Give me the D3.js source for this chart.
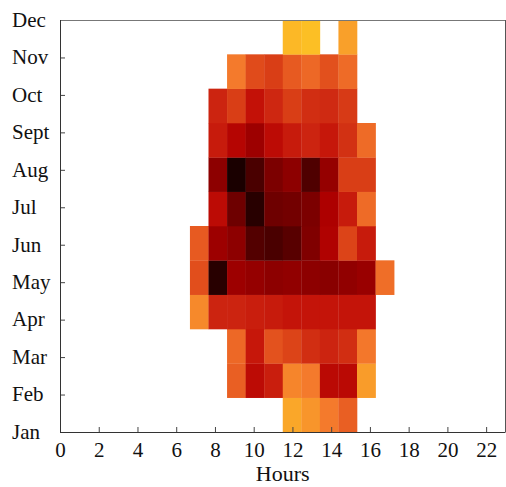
<!DOCTYPE html>
<html>
<head>
<meta charset="utf-8">
<script src="https://cdn.jsdelivr.net/npm/d3@7"></script>
<style>
  body { margin: 0; background: #fff; }
  text { font-family: "Liberation Serif", "DejaVu Serif", serif; fill: #111; }
</style>
</head>
<body>
<div id="heatmap"></div>
<script>
// months bottom to top, hours 0..23
var months = ["Jan", "Feb", "Mar", "Apr", "May", "Jun", "Jul", "Aug", "Sept", "Oct", "Nov", "Dec"];
var hours = d3.range(24);
var xTicks = [0, 2, 4, 6, 8, 10, 12, 14, 16, 18, 20, 22];

// intensity per hour (null = no data)
var n = null;
var jan  = [n,n,n,n,n,n,n,n,n,n,n,n, 12,18,25,34, n,n,n,n,n,n,n,n];
var feb  = [n,n,n,n,n,n,n,n,n, 34,64,57,22,25,65,65,16, n,n,n,n,n,n,n];
var mar  = [n,n,n,n,n,n,n,n,n, 31,59,39,45,52,55,52,26, n,n,n,n,n,n,n];
var apr  = [n,n,n,n,n,n,n, 21,55,55,57,58,60,60,60,60,60, n,n,n,n,n,n,n];
var may  = [n,n,n,n,n,n,n, 41,98,74,76,78,77,78,79,77,75,29, n,n,n,n,n,n];
var jun  = [n,n,n,n,n,n,n, 36,74,78,91,93,90,81,69,45,58, n,n,n,n,n,n,n];
var jul  = [n,n,n,n,n,n,n,n, 64,85,98,85,84,82,70,58,30, n,n,n,n,n,n,n];
var aug  = [n,n,n,n,n,n,n,n, 78,100,93,82,78,92,76,47,47, n,n,n,n,n,n,n];
var sept = [n,n,n,n,n,n,n,n, 58,67,74,64,58,55,59,51,30, n,n,n,n,n,n,n];
var oct  = [n,n,n,n,n,n,n,n, 55,47,61,54,47,52,53,48, n,n,n,n,n,n,n,n];
var nov  = [n,n,n,n,n,n,n,n,n, 25,42,47,36,31,40,30, n,n,n,n,n,n,n,n];
var dec  = [n,n,n,n,n,n,n,n,n,n,n,n, 5,2, n,15, n,n,n,n,n,n,n,n];

var rows = [jan, feb, mar, apr, may, jun, jul, aug, sept, oct, nov, dec];

var colorStops = [0, 15, 25, 35, 45, 55, 62, 70, 78, 86, 93, 100];
var colorRange = ["#fdc424", "#f9a02a", "#f47a2c", "#e85c22", "#dc4418", "#cc2410",
                  "#c10e06", "#ad0000", "#8d0000", "#6a0000", "#4a0000", "#1a0000"];

var W = 506, H = 487;
var margin = {top: 20, right: 0.5, bottom: 55, left: 60};
var width = W - margin.left - margin.right,
    height = H - margin.top - margin.bottom;

function init() {
    createHeatmap("#heatmap");
}

function createHeatmap(id) {
    var svg = d3.select(id)
        .append("svg")
        .attr("width", W)
        .attr("height", H)
        .append("g")
        .attr("transform", "translate(" + margin.left + "," + margin.top + ")");

    // cells sit in 24 x 12 bands, ticks use a 0..23 / Jan..Dec extent
    var xBand = d3.scaleBand().domain(hours).range([0, width]);
    var yBand = d3.scaleBand().domain(months).range([height, 0]);
    var x = d3.scaleLinear().domain([0, 23]).range([0, width]);
    var y = d3.scalePoint().domain(months).range([height, 0]);
    var color = d3.scaleLinear().domain(colorStops).range(colorRange).interpolate(d3.interpolateRgb);

    var cells = [];
    rows.forEach(function (r, i) {
        r.forEach(function (v, h) {
            if (v !== null) cells.push({month: months[i], hour: h, value: v});
        });
    });

    svg.selectAll("rect.cell")
        .data(cells)
        .enter()
        .append("rect")
        .attr("class", "cell")
        .attr("x", function (d) { return xBand(d.hour); })
        .attr("y", function (d) { return yBand(d.month); })
        .attr("width", xBand.bandwidth() + 0.3)
        .attr("height", yBand.bandwidth() + 0.3)
        .attr("fill", function (d) { return color(d.value); });

    // X axis
    var xAxis = svg.append("g")
        .attr("transform", "translate(0," + height + ")")
        .call(d3.axisBottom(x).tickValues(xTicks).tickSizeInner(-5).tickSizeOuter(0).tickPadding(10));
    xAxis.select(".domain").remove();
    xAxis.selectAll("line").attr("stroke", "#444");
    xAxis.selectAll("text")
        .attr("font-size", "21px")
        .attr("fill", "#111")
        .attr("y", 25)
        .attr("dy", 0);

    // Y axis
    var yAxis = svg.append("g")
        .call(d3.axisLeft(y).tickSizeInner(-5).tickSizeOuter(0));
    yAxis.select(".domain").remove();
    yAxis.selectAll("line").attr("stroke", "#444");
    yAxis.selectAll("text")
        .attr("font-size", "21px")
        .attr("fill", "#111")
        .attr("text-anchor", "start")
        .attr("x", 12 - margin.left)
        .attr("dy", "0.3em");

    // frame
    svg.append("line").attr("x1", 0).attr("x2", width).attr("y1", 0.5).attr("y2", 0.5).attr("stroke", "#777");
    svg.append("line").attr("x1", width).attr("x2", width).attr("y1", 0).attr("y2", height).attr("stroke", "#555");
    svg.append("line").attr("x1", 0.5).attr("x2", 0.5).attr("y1", 0).attr("y2", height).attr("stroke", "#333");
    svg.append("line").attr("x1", 0).attr("x2", width).attr("y1", height + 0.5).attr("y2", height + 0.5).attr("stroke", "#333");

    svg.append("text")
        .attr("x", width / 2)
        .attr("y", height + 49)
        .attr("text-anchor", "middle")
        .attr("font-size", "22px")
        .text("Hours");
}

init();
</script>
</body>
</html>
